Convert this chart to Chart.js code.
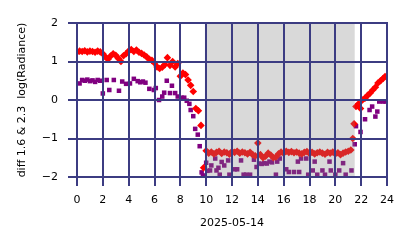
<!DOCTYPE html>
<html>
<head>
<meta charset="utf-8">
<script src="https://cdn.jsdelivr.net/npm/chart.js@4"></script>
<style>
  body { margin: 0; background: #fff; }
  #wrap { width: 414px; height: 248px; }
</style>
</head>
<body>
<div id="wrap"><canvas id="theChart" width="414" height="248"></canvas></div>
<script>
// hours of day (UTC) and values
const redHours = [
  0.0, 0.2, 0.4, 0.6, 0.8, 1.0, 1.2, 1.4, 1.6, 1.8,
  2.0, 2.2, 2.4, 2.6, 2.8, 3.0, 3.2, 3.4, 3.6, 3.8,
  4.0, 4.2, 4.4, 4.6, 4.8, 5.0, 5.2, 5.4, 5.6, 5.8,
  6.0, 6.2, 6.4, 6.6, 6.8, 7.0, 7.2, 7.4, 7.6, 7.8,
  8.0, 8.2, 8.4, 8.6, 8.8, 9.0, 9.2, 9.4, 9.6, 9.8,
  10.0, 10.2, 10.4, 10.6, 10.8, 11.0, 11.2, 11.4, 11.6, 11.8,
  12.0, 12.2, 12.4, 12.6, 12.8, 13.0, 13.2, 13.4, 13.6, 13.8,
  14.0, 14.2, 14.4, 14.6, 14.8, 15.0, 15.2, 15.4, 15.6, 15.8,
  16.0, 16.2, 16.4, 16.6, 16.8, 17.0, 17.2, 17.4, 17.6, 17.8,
  18.0, 18.2, 18.4, 18.6, 18.8, 19.0, 19.2, 19.4, 19.6, 19.8,
  20.0, 20.2, 20.4, 20.6, 20.8, 21.0, 21.2, 21.35, 21.45, 21.6,
  21.8, 21.95, 22.1, 22.3, 22.5, 22.7, 22.9, 23.1, 23.3, 23.5,
  23.7, 23.85,
];
const redValues = [
  1.24, 1.27, 1.26, 1.28, 1.25, 1.27, 1.26, 1.24, 1.27, 1.25,
  1.20, 1.12, 1.06, 1.14, 1.20, 1.16, 1.08, 1.00, 1.15, 1.20,
  1.27, 1.31, 1.26, 1.30, 1.24, 1.21, 1.17, 1.12, 1.06, 1.03,
  0.96, 0.86, 0.82, 0.85, 0.92, 1.10, 0.90, 1.00, 0.86, 0.95,
  0.62, 0.70, 0.66, 0.52, 0.38, 0.22, -0.22, -0.28, -0.66, -1.76,
  -1.32, -1.38, -1.35, -1.40, -1.36, -1.33, -1.39, -1.35, -1.37, -1.41,
  -1.34, -1.36, -1.33, -1.38, -1.35, -1.37, -1.40, -1.36, -1.42, -1.45,
  -1.12, -1.42, -1.50, -1.46, -1.38, -1.43, -1.50, -1.48, -1.40, -1.35,
  -1.38, -1.33, -1.36, -1.34, -1.37, -1.35, -1.38, -1.40, -1.36, -1.34,
  -1.39, -1.36, -1.40, -1.37, -1.35, -1.38, -1.41, -1.36, -1.38, -1.35,
  -1.40, -1.37, -1.42, -1.38, -1.35, -1.33, -1.30, -1.00, -0.62, -0.17,
  -0.10, -0.22, 0.00, 0.05, 0.12, 0.18, 0.26, 0.33, 0.44, 0.50,
  0.56, 0.61,
];

const purpleHours = [
  0.2, 0.4, 0.6, 0.8, 1.0, 1.2, 1.4, 1.6, 1.8, 2.0,
  2.3, 2.5, 2.85, 3.25, 3.5, 3.8, 4.1, 4.4, 4.7, 4.9,
  5.1, 5.3, 5.6, 5.95, 6.1, 6.35, 6.6, 6.75, 6.95, 7.2,
  7.35, 7.6, 7.8, 8.1, 8.3, 8.5, 8.7, 8.8, 9.0, 9.15,
  9.35, 9.5, 9.65, 9.75, 10.0, 10.1, 10.3, 10.4, 10.7, 10.8,
  10.95, 11.05, 11.2, 11.4, 11.7, 11.8, 12.2, 12.4, 12.7, 12.9,
  13.1, 13.4, 13.7, 13.9, 14.1, 14.3, 14.5, 14.7, 14.9, 15.1,
  15.4, 15.5, 15.7, 16.2, 16.4, 16.8, 17.1, 17.2, 17.35, 17.75,
  17.9, 18.25, 18.4, 18.6, 19.0, 19.2, 19.55, 19.65, 20.0, 20.3,
  20.6, 20.8, 21.25, 21.5, 21.6, 21.95, 22.3, 22.65, 22.85, 23.1,
  23.25, 23.4, 23.7, 23.9,
];
const purpleValues = [
  0.43, 0.52, 0.50, 0.53, 0.49, 0.51, 0.47, 0.52, 0.50, 0.17,
  0.52, 0.26, 0.52, 0.24, 0.48, 0.42, 0.43, 0.55, 0.49, 0.46,
  0.48, 0.45, 0.29, 0.26, 0.31, 0.00, 0.09, 0.19, 0.50, 0.18,
  0.37, 0.18, 0.09, 0.06, 0.06, -0.02, -0.10, -0.26, -0.42, -0.75,
  -0.90, -1.20, -1.88, -1.96, -1.63, -1.84, -1.83, -1.70, -1.52, -1.83,
  -1.76, -1.94, -1.61, -1.70, -1.57, -1.94, -1.80, -1.80, -1.57, -1.94,
  -1.94, -1.94, -1.55, -1.74, -1.65, -1.66, -1.64, -1.65, -1.60, -1.62,
  -1.94, -1.60, -1.52, -1.80, -1.87, -1.87, -1.60, -1.87, -1.52, -1.52,
  -1.94, -1.83, -1.60, -1.94, -1.83, -1.94, -1.60, -1.83, -1.94, -1.83,
  -1.64, -1.94, -1.83, -1.15, -0.68, -0.83, -0.50, -0.26, -0.17, -0.43,
  -0.30, -0.04, -0.04, -0.04,
];

// shaded span (hours)
const shadeStart = 9.9;
const shadeEnd = 21.5;

const FONT = { family: "'DejaVu Sans', sans-serif", size: 11 };
const TICK_LEN = 9;
// very dark fills came out blank when photographed, so a lighter slate tone
const LINE_COLOR = "rgb(60, 60, 130)";

function toPoints(xs, ys) {
  return xs.map((x, i) => ({ x: x, y: ys[i] }));
}

// grey span over the points, then grid + tick marks on top of it
const overlayPlugin = {
  id: "overlay",
  afterDatasetsDraw(chart) {
    const { ctx, chartArea, scales } = chart;
    const x0 = scales.x.getPixelForValue(shadeStart);
    const x1 = scales.x.getPixelForValue(shadeEnd);
    ctx.save();
    ctx.fillStyle = "rgba(128, 128, 128, 0.3)";
    ctx.fillRect(x0, chartArea.top, x1 - x0, chartArea.bottom - chartArea.top);

    ctx.fillStyle = LINE_COLOR;
    scales.x.ticks.forEach((t) => {
      const px = Math.round(scales.x.getPixelForValue(t.value));
      ctx.fillRect(px - 1, chartArea.top - 1, 2, chartArea.bottom - chartArea.top + 1 + TICK_LEN);
    });
    scales.y.ticks.forEach((t) => {
      const py = Math.round(scales.y.getPixelForValue(t.value));
      ctx.fillRect(chartArea.left - TICK_LEN, py - 1, chartArea.right - chartArea.left + TICK_LEN + 1, 2);
    });
    ctx.restore();
  },
};

const data = {
  datasets: [
    {
      label: "1.6",
      data: toPoints(redHours, redValues),
      backgroundColor: "rgb(255, 0, 0)",
      borderWidth: 0,
      pointStyle: "rectRot",
      pointRadius: 3.8,
    },
    {
      label: "2.3",
      data: toPoints(purpleHours, purpleValues),
      backgroundColor: "rgb(128, 0, 128)",
      borderWidth: 0,
      pointStyle: "rect",
      pointRadius: 3.2,
    },
  ],
};

const config = {
  type: "scatter",
  data: data,
  options: {
    responsive: false,
    animation: false,
    layout: {
      padding: { top: 23, right: 27, bottom: 0, left: 0 },
    },
    plugins: {
      legend: { display: false },
      tooltip: { enabled: false },
    },
    scales: {
      x: {
        type: "linear",
        min: 0,
        max: 24,
        afterFit: (scale) => { scale.height = 71; },
        ticks: {
          stepSize: 2,
          color: "#000",
          font: FONT,
          padding: 8,
          maxRotation: 0,
        },
        grid: { display: false, tickLength: TICK_LEN },
        border: { display: false },
        title: {
          display: true,
          text: "2025-05-14",
          color: "#000",
          font: FONT,
          padding: { top: 0, bottom: 18 },
        },
      },
      y: {
        type: "linear",
        min: -2,
        max: 2,
        afterFit: (scale) => { scale.width = 77; },
        ticks: {
          stepSize: 1,
          color: "#000",
          font: FONT,
          padding: 10,
          callback: (v) => String(v).replace("-", "\u2212"),
        },
        grid: { display: false, tickLength: TICK_LEN },
        border: { display: false },
        title: {
          display: true,
          text: "diff 1.6 & 2.3  log(Radiance)",
          color: "#000",
          font: FONT,
          padding: { top: 16, bottom: 0 },
        },
      },
    },
  },
  plugins: [overlayPlugin],
};

const theChart = new Chart(document.getElementById("theChart"), config);
</script>
</body>
</html>
